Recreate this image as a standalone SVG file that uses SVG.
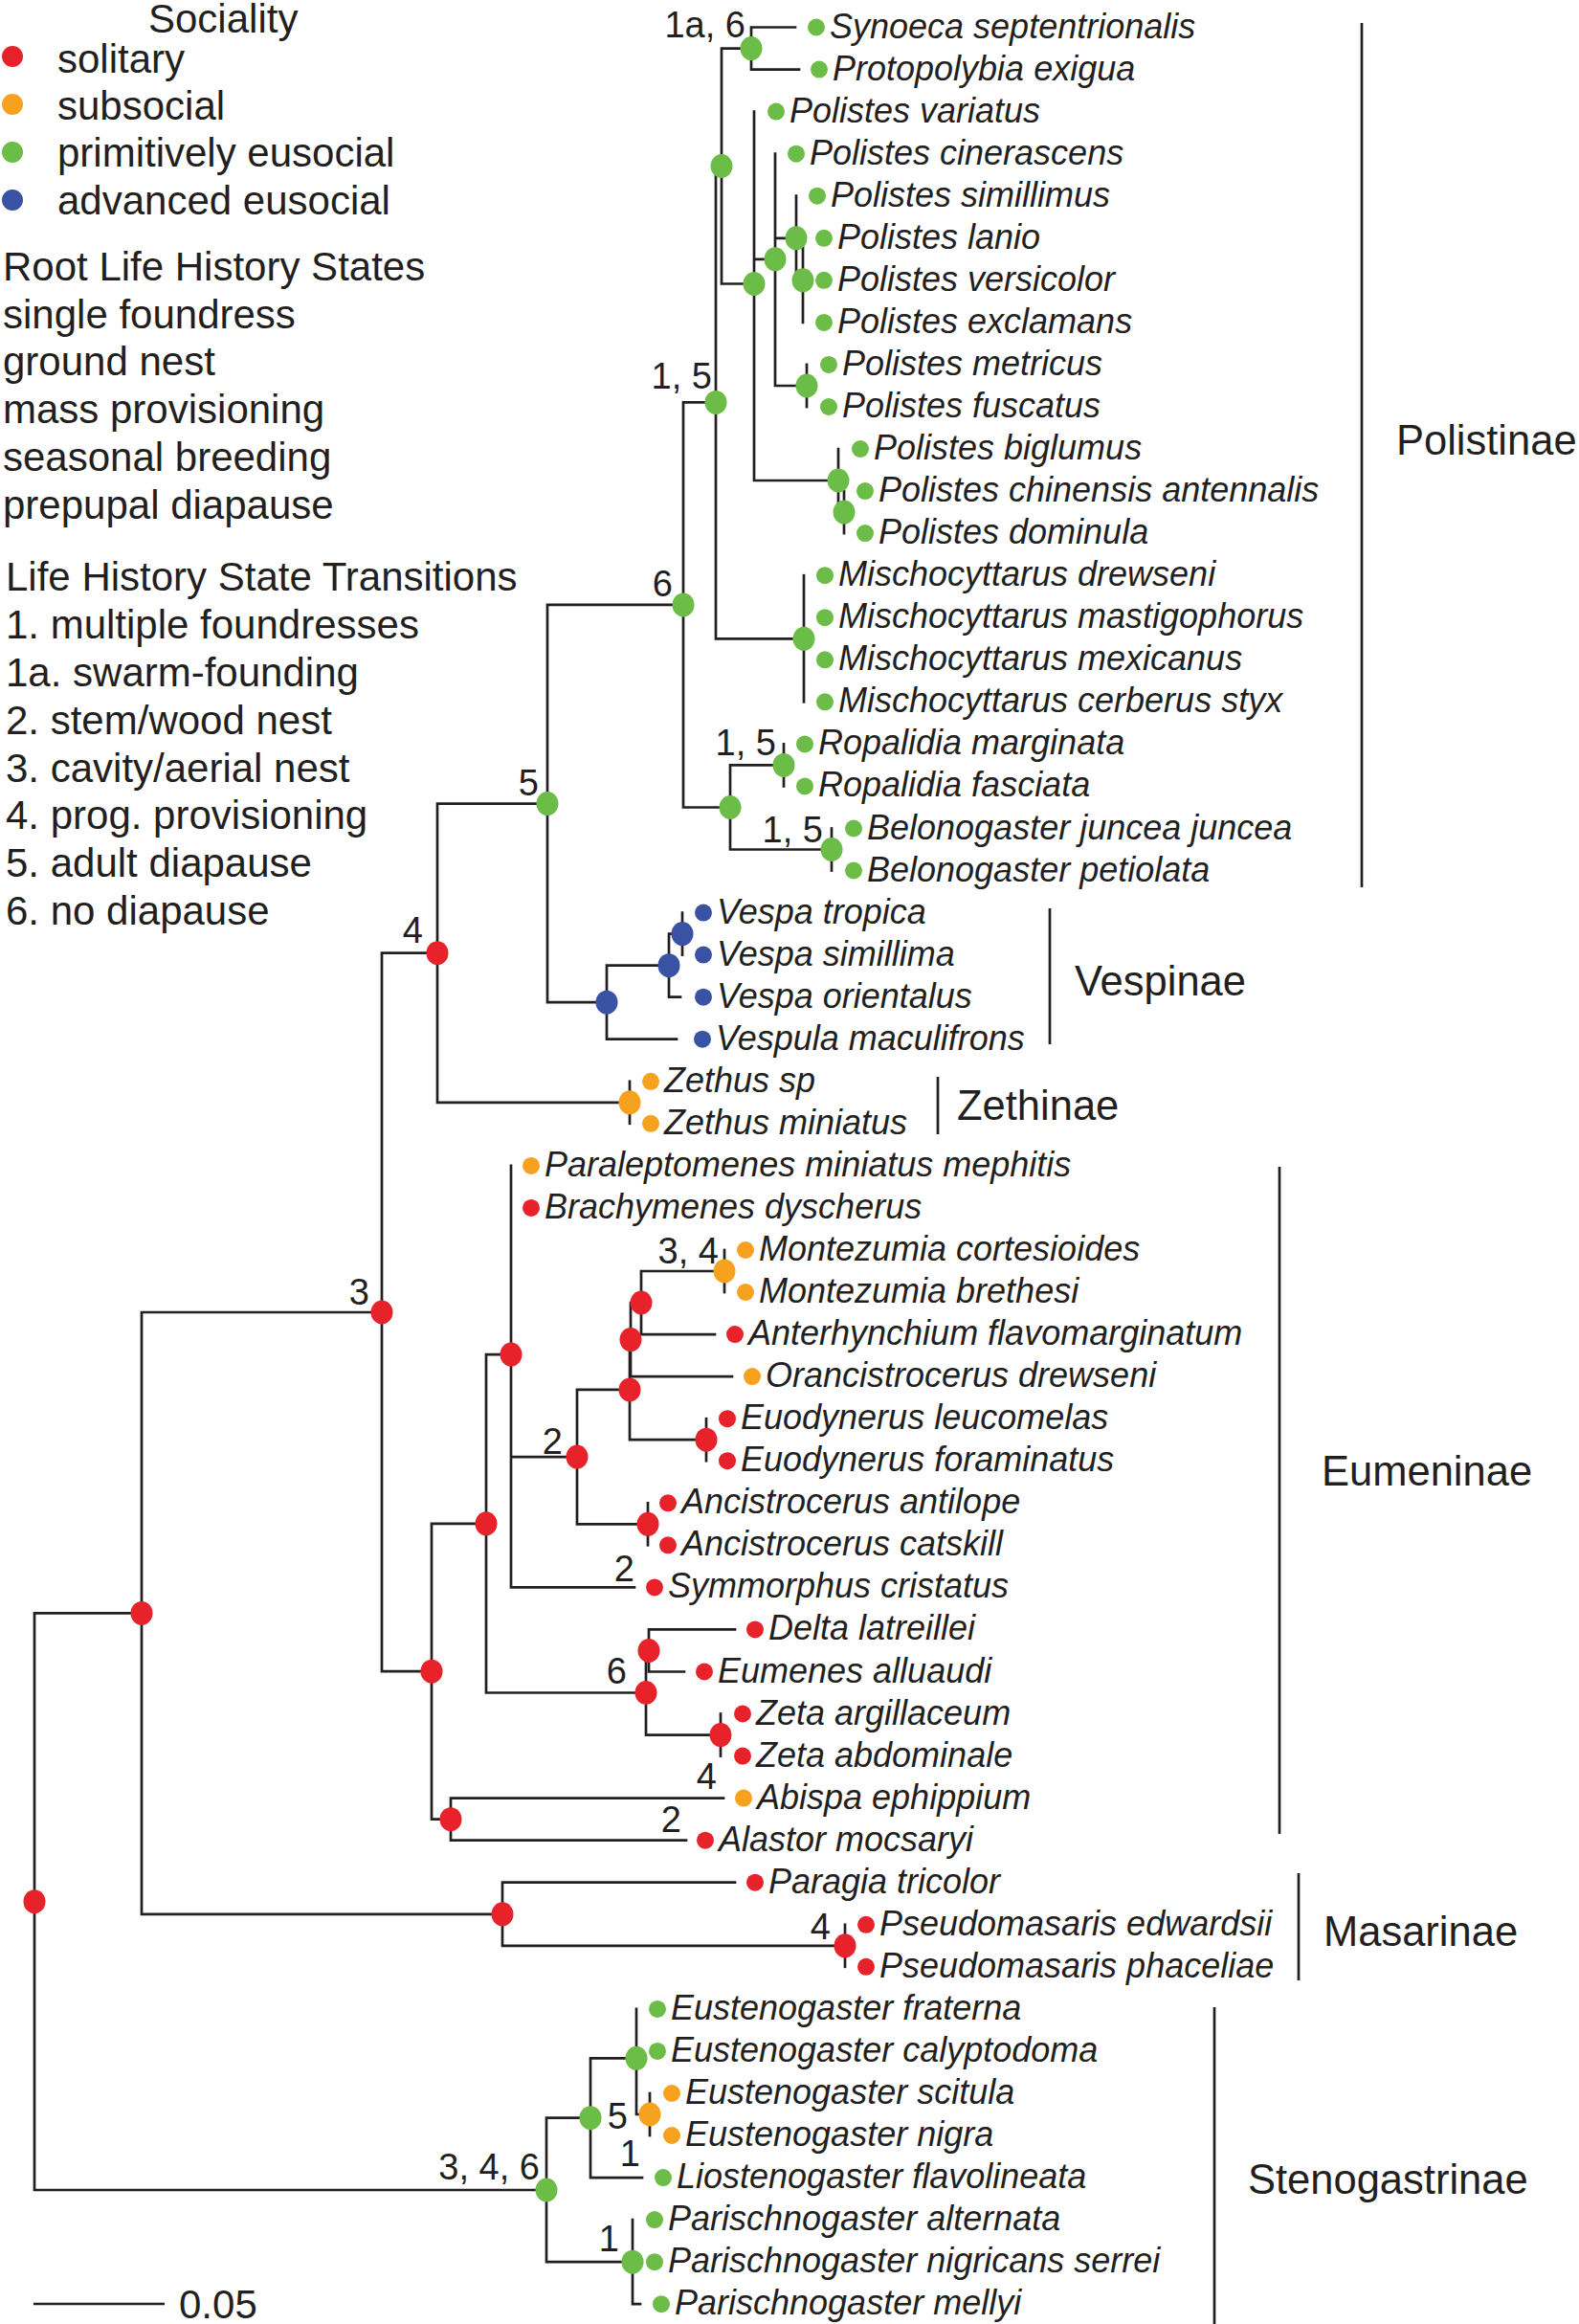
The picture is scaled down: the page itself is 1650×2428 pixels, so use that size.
<svg xmlns="http://www.w3.org/2000/svg" width="1650" height="2428" viewBox="0 0 1650 2428">
<style>
.bg{fill:#ffffff}
.br{fill:none;stroke:#231f20;stroke-width:2.7;stroke-linecap:square;stroke-linejoin:miter}
.bar{fill:none;stroke:#231f20;stroke-width:2.7}
text{font-family:"Liberation Sans",Arial,Helvetica,sans-serif;fill:#231f20}
.sp{font-size:36px;font-style:italic}
.lg{font-size:42px}
.cl{font-size:43.5px}
.nl{font-size:38px;text-anchor:end}
.sc{font-size:42px}
.r{fill:#e8222a}
.o{fill:#f6a21e}
.g{fill:#6bbd47}
.b{fill:#3a52a3}
</style>
<defs>
<ellipse id="nd" cx="0" cy="0" rx="11.5" ry="12.5"/>
<circle id="td" cx="0" cy="0" r="9"/>
</defs>
<rect class="bg" x="0" y="0" width="1650" height="2428"/>

<g id="legend">
<text class="lg" x="155" y="34">Sociality</text>
<circle class="r" cx="13" cy="59" r="11"/><text class="lg" x="60" y="76">solitary</text>
<circle class="o" cx="13" cy="109" r="11"/><text class="lg" x="60" y="125">subsocial</text>
<circle class="g" cx="13" cy="159" r="11"/><text class="lg" x="60" y="174">primitively eusocial</text>
<circle class="b" cx="13" cy="209" r="11"/><text class="lg" x="60" y="224">advanced eusocial</text>
<text class="lg" x="3" y="293">Root Life History States</text>
<text class="lg" x="3" y="343">single foundress</text>
<text class="lg" x="3" y="392">ground nest</text>
<text class="lg" x="3" y="442">mass provisioning</text>
<text class="lg" x="3" y="492">seasonal breeding</text>
<text class="lg" x="3" y="542">prepupal diapause</text>
<text class="lg" x="6" y="617">Life History State Transitions</text>
<text class="lg" x="6" y="667">1. multiple foundresses</text>
<text class="lg" x="6" y="717">1a. swarm-founding</text>
<text class="lg" x="6" y="767">2. stem/wood nest</text>
<text class="lg" x="6" y="817">3. cavity/aerial nest</text>
<text class="lg" x="6" y="866">4. prog. provisioning</text>
<text class="lg" x="6" y="916">5. adult diapause</text>
<text class="lg" x="6" y="966">6. no diapause</text>
</g>

<g id="connectors">
<path class="br" d="M148,1685.4 H36 V2288 H571"/>
<path class="br" d="M399,1371 H148 V1999.8 H525"/>
<path class="br" d="M457,995.7 H399 V1746.2 H451"/>
<path class="br" d="M572,839.6 H457 V1151.8 H658"/>
<path class="br" d="M714,631.9 H572 V1047.2 H634"/>
<path class="br" d="M748,420.4 H714 V843.5 H763"/>
<path class="br" d="M754,173.5 H748 V667.3 H840"/>
<path class="br" d="M785,50.6 H754 V296.5 H788"/>
<path class="br" d="M831,28.5 H785 V72.6 H835"/>
<path class="br" d="M788,116.6 V502 H876 M788,270.8 H810"/>
<path class="br" d="M810,160.7 V403 H843 M810,248.8 H832"/>
<path class="br" d="M832,204.7 V292.8 H839"/>
<path class="br" d="M839,248.8 V336.9"/>
<path class="br" d="M843,380.9 V425"/>
<path class="br" d="M876,469 V535.1 H882"/>
<path class="br" d="M882,513.1 V557.1"/>
<path class="br" d="M840,601.2 V733.3"/>
<path class="br" d="M819,799.4 H763 V887.5 H869"/>
<path class="br" d="M819,777.4 V821.4"/>
<path class="br" d="M869,865.5 V909.5"/>
<path class="br" d="M699,1008.7 H634 V1085.7 H707"/>
<path class="br" d="M713,975.6 H699 V1041.7 H711"/>
<path class="br" d="M713,953.6 V997.6"/>
<path class="br" d="M658,1129.8 V1173.8"/>
<path class="br" d="M768,1966.7 H525 V2032.8 H883"/>
<path class="br" d="M883,2010.8 V2054.8"/>
<path class="br" d="M534,1415.1 H508 V1768.5 H675"/>
<path class="br" d="M534,1217.9 V1658.4 H663 M534,1522.1 H603"/>
<path class="br" d="M658,1451.9 H603 V1592.3 H677"/>
<path class="br" d="M677,1570.3 V1614.3"/>
<path class="br" d="M659,1399.6 H658 V1504.2 H738"/>
<path class="br" d="M670,1361 H659 V1438.1 H765"/>
<path class="br" d="M757,1328 H670 V1394.1 H747"/>
<path class="br" d="M757,1306 V1350"/>
<path class="br" d="M738,1482.2 V1526.2"/>
<path class="br" d="M678,1724.5 H675 V1812.6 H753"/>
<path class="br" d="M768,1702.4 H678 V1746.5 H715"/>
<path class="br" d="M753,1790.5 V1834.6"/>
<path class="br" d="M508,1591.8 H451 V1900.7 H471"/>
<path class="br" d="M756,1878.6 H471 V1922.7 H717"/>
<path class="br" d="M617,2212.7 H571 V2363.2 H661"/>
<path class="br" d="M665,2150.3 H617 V2275.1 H671"/>
<path class="br" d="M665,2098.9 V2209 H679"/>
<path class="br" d="M679,2187 V2231"/>
<path class="br" d="M661,2319.1 V2407.2 H669"/>
</g>

<g id="internal-nodes">
<g id="n-synoeca"><use href="#nd" class="g" x="785" y="50.6"/><text class="nl" x="779" y="39">1a, 6</text></g>
<g id="n-epiponini-polistes"><use href="#nd" class="g" x="754" y="173.5"/></g>
<g id="n-polistes"><use href="#nd" class="g" x="788" y="296.5"/></g>
<g id="n-polistes-b"><use href="#nd" class="g" x="810" y="270.8"/></g>
<g id="n-polistes-c"><use href="#nd" class="g" x="832" y="248.8"/></g>
<g id="n-polistes-d"><use href="#nd" class="g" x="839" y="292.8"/></g>
<g id="n-polistes-m"><use href="#nd" class="g" x="843" y="403"/></g>
<g id="n-polistes-g"><use href="#nd" class="g" x="876" y="502"/></g>
<g id="n-polistes-h"><use href="#nd" class="g" x="882" y="535.1"/></g>
<g id="n-15"><use href="#nd" class="g" x="748" y="420.4"/><text class="nl" x="744" y="406">1, 5</text></g>
<g id="n-mischocyttarus"><use href="#nd" class="g" x="840" y="667.3"/></g>
<g id="n-6"><use href="#nd" class="g" x="714" y="631.9"/><text class="nl" x="703" y="623">6</text></g>
<g id="n-ropalidiini"><use href="#nd" class="g" x="763" y="843.5"/></g>
<g id="n-ropalidia"><use href="#nd" class="g" x="819" y="799.4"/><text class="nl" x="811" y="789">1, 5</text></g>
<g id="n-belonogaster"><use href="#nd" class="g" x="869" y="887.5"/><text class="nl" x="860" y="880">1, 5</text></g>
<g id="n-5"><use href="#nd" class="g" x="572" y="839.6"/><text class="nl" x="563" y="831">5</text></g>
<g id="n-vespinae"><use href="#nd" class="b" x="634" y="1047.2"/></g>
<g id="n-vespa"><use href="#nd" class="b" x="699" y="1008.7"/></g>
<g id="n-vespa-t"><use href="#nd" class="b" x="713" y="975.6"/></g>
<g id="n-4"><use href="#nd" class="r" x="457" y="995.7"/><text class="nl" x="442" y="985">4</text></g>
<g id="n-zethus"><use href="#nd" class="o" x="658" y="1151.8"/></g>
<g id="n-3"><use href="#nd" class="r" x="399" y="1371"/><text class="nl" x="386" y="1363">3</text></g>
<g id="n-eum-p"><use href="#nd" class="r" x="534" y="1415.1"/></g>
<g id="n-eum-x"><use href="#nd" class="r" x="670" y="1361"/></g>
<g id="n-eum-y"><use href="#nd" class="r" x="659" y="1399.6"/></g>
<g id="n-eum-z"><use href="#nd" class="r" x="658" y="1451.9"/></g>
<g id="n-montezumia"><use href="#nd" class="o" x="757" y="1328"/><text class="nl" x="751" y="1320">3, 4</text></g>
<g id="n-euodynerus"><use href="#nd" class="r" x="738" y="1504.2"/></g>
<g id="n-2"><use href="#nd" class="r" x="603" y="1522.1"/><text class="nl" x="588" y="1519">2</text></g>
<g id="n-ancistrocerus"><use href="#nd" class="r" x="677" y="1592.3"/></g>
<g id="n-eum-q"><use href="#nd" class="r" x="508" y="1591.8"/></g>
<g id="n-eum-r"><use href="#nd" class="r" x="675" y="1768.5"/></g>
<g id="n-eum-s"><use href="#nd" class="r" x="678" y="1724.5"/><text class="nl" x="655" y="1759">6</text></g>
<g id="n-zeta"><use href="#nd" class="r" x="753" y="1812.6"/></g>
<g id="n-eum-t"><use href="#nd" class="r" x="471" y="1900.7"/></g>
<g id="n-eum-u"><use href="#nd" class="r" x="451" y="1746.2"/></g>
<g id="n-a"><use href="#nd" class="r" x="148" y="1685.4"/></g>
<g id="n-masarinae"><use href="#nd" class="r" x="525" y="1999.8"/></g>
<g id="n-pseudomasaris"><use href="#nd" class="r" x="883" y="2032.8"/><text class="nl" x="868" y="2026">4</text></g>
<g id="n-root"><use href="#nd" class="r" x="36" y="1986.7"/></g>
<g id="n-stenogastrinae"><use href="#nd" class="g" x="571" y="2288"/><text class="nl" x="564" y="2277">3, 4, 6</text></g>
<g id="n-steno-1"><use href="#nd" class="g" x="617" y="2212.7"/></g>
<g id="n-eustenogaster"><use href="#nd" class="g" x="665" y="2150.3"/></g>
<g id="n-eusteno-sn"><use href="#nd" class="o" x="679" y="2209"/><text class="nl" x="656" y="2224">5</text></g>
<g id="n-parischnogaster"><use href="#nd" class="g" x="661" y="2363.2"/><text class="nl" x="647" y="2352">1</text></g>
<g id="branch-labels"><text class="nl" x="663" y="1652">2</text><text class="nl" x="749" y="1869">4</text><text class="nl" x="712" y="1914">2</text><text class="nl" x="669" y="2263">1</text></g>
</g>

<g id="tips">
<g id="t0"><use href="#td" class="g" x="853" y="28.5"/><text class="sp" x="867" y="39.5">Synoeca septentrionalis</text></g>
<g id="t1"><use href="#td" class="g" x="856" y="72.6"/><text class="sp" x="870" y="83.6">Protopolybia exigua</text></g>
<g id="t2"><use href="#td" class="g" x="811" y="116.6"/><text class="sp" x="825" y="127.6">Polistes variatus</text></g>
<g id="t3"><use href="#td" class="g" x="832" y="160.7"/><text class="sp" x="846" y="171.7">Polistes cinerascens</text></g>
<g id="t4"><use href="#td" class="g" x="854" y="204.7"/><text class="sp" x="868" y="215.7">Polistes simillimus</text></g>
<g id="t5"><use href="#td" class="g" x="861" y="248.8"/><text class="sp" x="875" y="259.8">Polistes lanio</text></g>
<g id="t6"><use href="#td" class="g" x="861" y="292.8"/><text class="sp" x="875" y="303.8">Polistes versicolor</text></g>
<g id="t7"><use href="#td" class="g" x="861" y="336.9"/><text class="sp" x="875" y="347.9">Polistes exclamans</text></g>
<g id="t8"><use href="#td" class="g" x="866" y="380.9"/><text class="sp" x="880" y="391.9">Polistes metricus</text></g>
<g id="t9"><use href="#td" class="g" x="866" y="425"/><text class="sp" x="880" y="436">Polistes fuscatus</text></g>
<g id="t10"><use href="#td" class="g" x="899" y="469"/><text class="sp" x="913" y="480">Polistes biglumus</text></g>
<g id="t11"><use href="#td" class="g" x="904" y="513.1"/><text class="sp" x="918" y="524.1">Polistes chinensis antennalis</text></g>
<g id="t12"><use href="#td" class="g" x="904" y="557.1"/><text class="sp" x="918" y="568.1">Polistes dominula</text></g>
<g id="t13"><use href="#td" class="g" x="862" y="601.2"/><text class="sp" x="876" y="612.2">Mischocyttarus drewseni</text></g>
<g id="t14"><use href="#td" class="g" x="862" y="645.2"/><text class="sp" x="876" y="656.2">Mischocyttarus mastigophorus</text></g>
<g id="t15"><use href="#td" class="g" x="862" y="689.3"/><text class="sp" x="876" y="700.3">Mischocyttarus mexicanus</text></g>
<g id="t16"><use href="#td" class="g" x="862" y="733.3"/><text class="sp" x="876" y="744.3">Mischocyttarus cerberus styx</text></g>
<g id="t17"><use href="#td" class="g" x="841" y="777.4"/><text class="sp" x="855" y="788.4">Ropalidia marginata</text></g>
<g id="t18"><use href="#td" class="g" x="841" y="821.4"/><text class="sp" x="855" y="832.4">Ropalidia fasciata</text></g>
<g id="t19"><use href="#td" class="g" x="892" y="865.5"/><text class="sp" x="906" y="876.5">Belonogaster juncea juncea</text></g>
<g id="t20"><use href="#td" class="g" x="892" y="909.5"/><text class="sp" x="906" y="920.5">Belonogaster petiolata</text></g>
<g id="t21"><use href="#td" class="b" x="735" y="953.6"/><text class="sp" x="749" y="964.6">Vespa tropica</text></g>
<g id="t22"><use href="#td" class="b" x="735" y="997.6"/><text class="sp" x="749" y="1008.6">Vespa simillima</text></g>
<g id="t23"><use href="#td" class="b" x="735" y="1041.7"/><text class="sp" x="749" y="1052.7">Vespa orientalus</text></g>
<g id="t24"><use href="#td" class="b" x="734" y="1085.7"/><text class="sp" x="748" y="1096.7">Vespula maculifrons</text></g>
<g id="t25"><use href="#td" class="o" x="680" y="1129.8"/><text class="sp" x="694" y="1140.8">Zethus sp</text></g>
<g id="t26"><use href="#td" class="o" x="680" y="1173.8"/><text class="sp" x="694" y="1184.8">Zethus miniatus</text></g>
<g id="t27"><use href="#td" class="o" x="555" y="1217.9"/><text class="sp" x="569" y="1228.9">Paraleptomenes miniatus mephitis</text></g>
<g id="t28"><use href="#td" class="r" x="555" y="1261.9"/><text class="sp" x="569" y="1272.9">Brachymenes dyscherus</text></g>
<g id="t29"><use href="#td" class="o" x="779" y="1306"/><text class="sp" x="793" y="1317">Montezumia cortesioides</text></g>
<g id="t30"><use href="#td" class="o" x="779" y="1350"/><text class="sp" x="793" y="1361">Montezumia brethesi</text></g>
<g id="t31"><use href="#td" class="r" x="768" y="1394.1"/><text class="sp" x="782" y="1405.1">Anterhynchium flavomarginatum</text></g>
<g id="t32"><use href="#td" class="o" x="786" y="1438.1"/><text class="sp" x="800" y="1449.1">Orancistrocerus drewseni</text></g>
<g id="t33"><use href="#td" class="r" x="760" y="1482.2"/><text class="sp" x="774" y="1493.2">Euodynerus leucomelas</text></g>
<g id="t34"><use href="#td" class="r" x="760" y="1526.2"/><text class="sp" x="774" y="1537.2">Euodynerus foraminatus</text></g>
<g id="t35"><use href="#td" class="r" x="698" y="1570.3"/><text class="sp" x="712" y="1581.3">Ancistrocerus antilope</text></g>
<g id="t36"><use href="#td" class="r" x="698" y="1614.3"/><text class="sp" x="712" y="1625.3">Ancistrocerus catskill</text></g>
<g id="t37"><use href="#td" class="r" x="684" y="1658.4"/><text class="sp" x="698" y="1669.4">Symmorphus cristatus</text></g>
<g id="t38"><use href="#td" class="r" x="789" y="1702.4"/><text class="sp" x="803" y="1713.4">Delta latreillei</text></g>
<g id="t39"><use href="#td" class="r" x="736" y="1746.5"/><text class="sp" x="750" y="1757.5">Eumenes alluaudi</text></g>
<g id="t40"><use href="#td" class="r" x="776" y="1790.5"/><text class="sp" x="790" y="1801.5">Zeta argillaceum</text></g>
<g id="t41"><use href="#td" class="r" x="776" y="1834.6"/><text class="sp" x="790" y="1845.6">Zeta abdominale</text></g>
<g id="t42"><use href="#td" class="o" x="777" y="1878.6"/><text class="sp" x="791" y="1889.6">Abispa ephippium</text></g>
<g id="t43"><use href="#td" class="r" x="737" y="1922.7"/><text class="sp" x="751" y="1933.7">Alastor mocsaryi</text></g>
<g id="t44"><use href="#td" class="r" x="789" y="1966.7"/><text class="sp" x="803" y="1977.7">Paragia tricolor</text></g>
<g id="t45"><use href="#td" class="r" x="905" y="2010.8"/><text class="sp" x="919" y="2021.8">Pseudomasaris edwardsii</text></g>
<g id="t46"><use href="#td" class="r" x="905" y="2054.8"/><text class="sp" x="919" y="2065.8">Pseudomasaris phaceliae</text></g>
<g id="t47"><use href="#td" class="g" x="687" y="2098.9"/><text class="sp" x="701" y="2109.9">Eustenogaster fraterna</text></g>
<g id="t48"><use href="#td" class="g" x="687" y="2142.9"/><text class="sp" x="701" y="2153.9">Eustenogaster calyptodoma</text></g>
<g id="t49"><use href="#td" class="o" x="702" y="2187"/><text class="sp" x="716" y="2198">Eustenogaster scitula</text></g>
<g id="t50"><use href="#td" class="o" x="702" y="2231"/><text class="sp" x="716" y="2242">Eustenogaster nigra</text></g>
<g id="t51"><use href="#td" class="g" x="693" y="2275.1"/><text class="sp" x="707" y="2286.1">Liostenogaster flavolineata</text></g>
<g id="t52"><use href="#td" class="g" x="684" y="2319.1"/><text class="sp" x="698" y="2330.1">Parischnogaster alternata</text></g>
<g id="t53"><use href="#td" class="g" x="684" y="2363.2"/><text class="sp" x="698" y="2374.2">Parischnogaster nigricans serrei</text></g>
<g id="t54"><use href="#td" class="g" x="691" y="2407.2"/><text class="sp" x="705" y="2418.2">Parischnogaster mellyi</text></g>
</g>

<g id="clades">
<g id="c-polistinae"><line class="bar" x1="1423" y1="24" x2="1423" y2="927"/><text class="cl" x="1459" y="475">Polistinae</text></g>
<g id="c-vespinae"><line class="bar" x1="1097" y1="949" x2="1097" y2="1091"/><text class="cl" x="1123" y="1040">Vespinae</text></g>
<g id="c-zethinae"><line class="bar" x1="980" y1="1125" x2="980" y2="1185"/><text class="cl" x="1000" y="1170">Zethinae</text></g>
<g id="c-eumeninae"><line class="bar" x1="1337" y1="1219" x2="1337" y2="1916"/><text class="cl" x="1381" y="1552">Eumeninae</text></g>
<g id="c-masarinae"><line class="bar" x1="1357" y1="1957" x2="1357" y2="2069"/><text class="cl" x="1383" y="2033">Masarinae</text></g>
<g id="c-stenogastrinae"><line class="bar" x1="1269" y1="2097" x2="1269" y2="2428"/><text class="cl" x="1304" y="2292">Stenogastrinae</text></g>
</g>

<g id="scale">
<line class="bar" x1="35" y1="2407" x2="172" y2="2407"/>
<text class="sc" x="187" y="2422">0.05</text>
</g>
</svg>
